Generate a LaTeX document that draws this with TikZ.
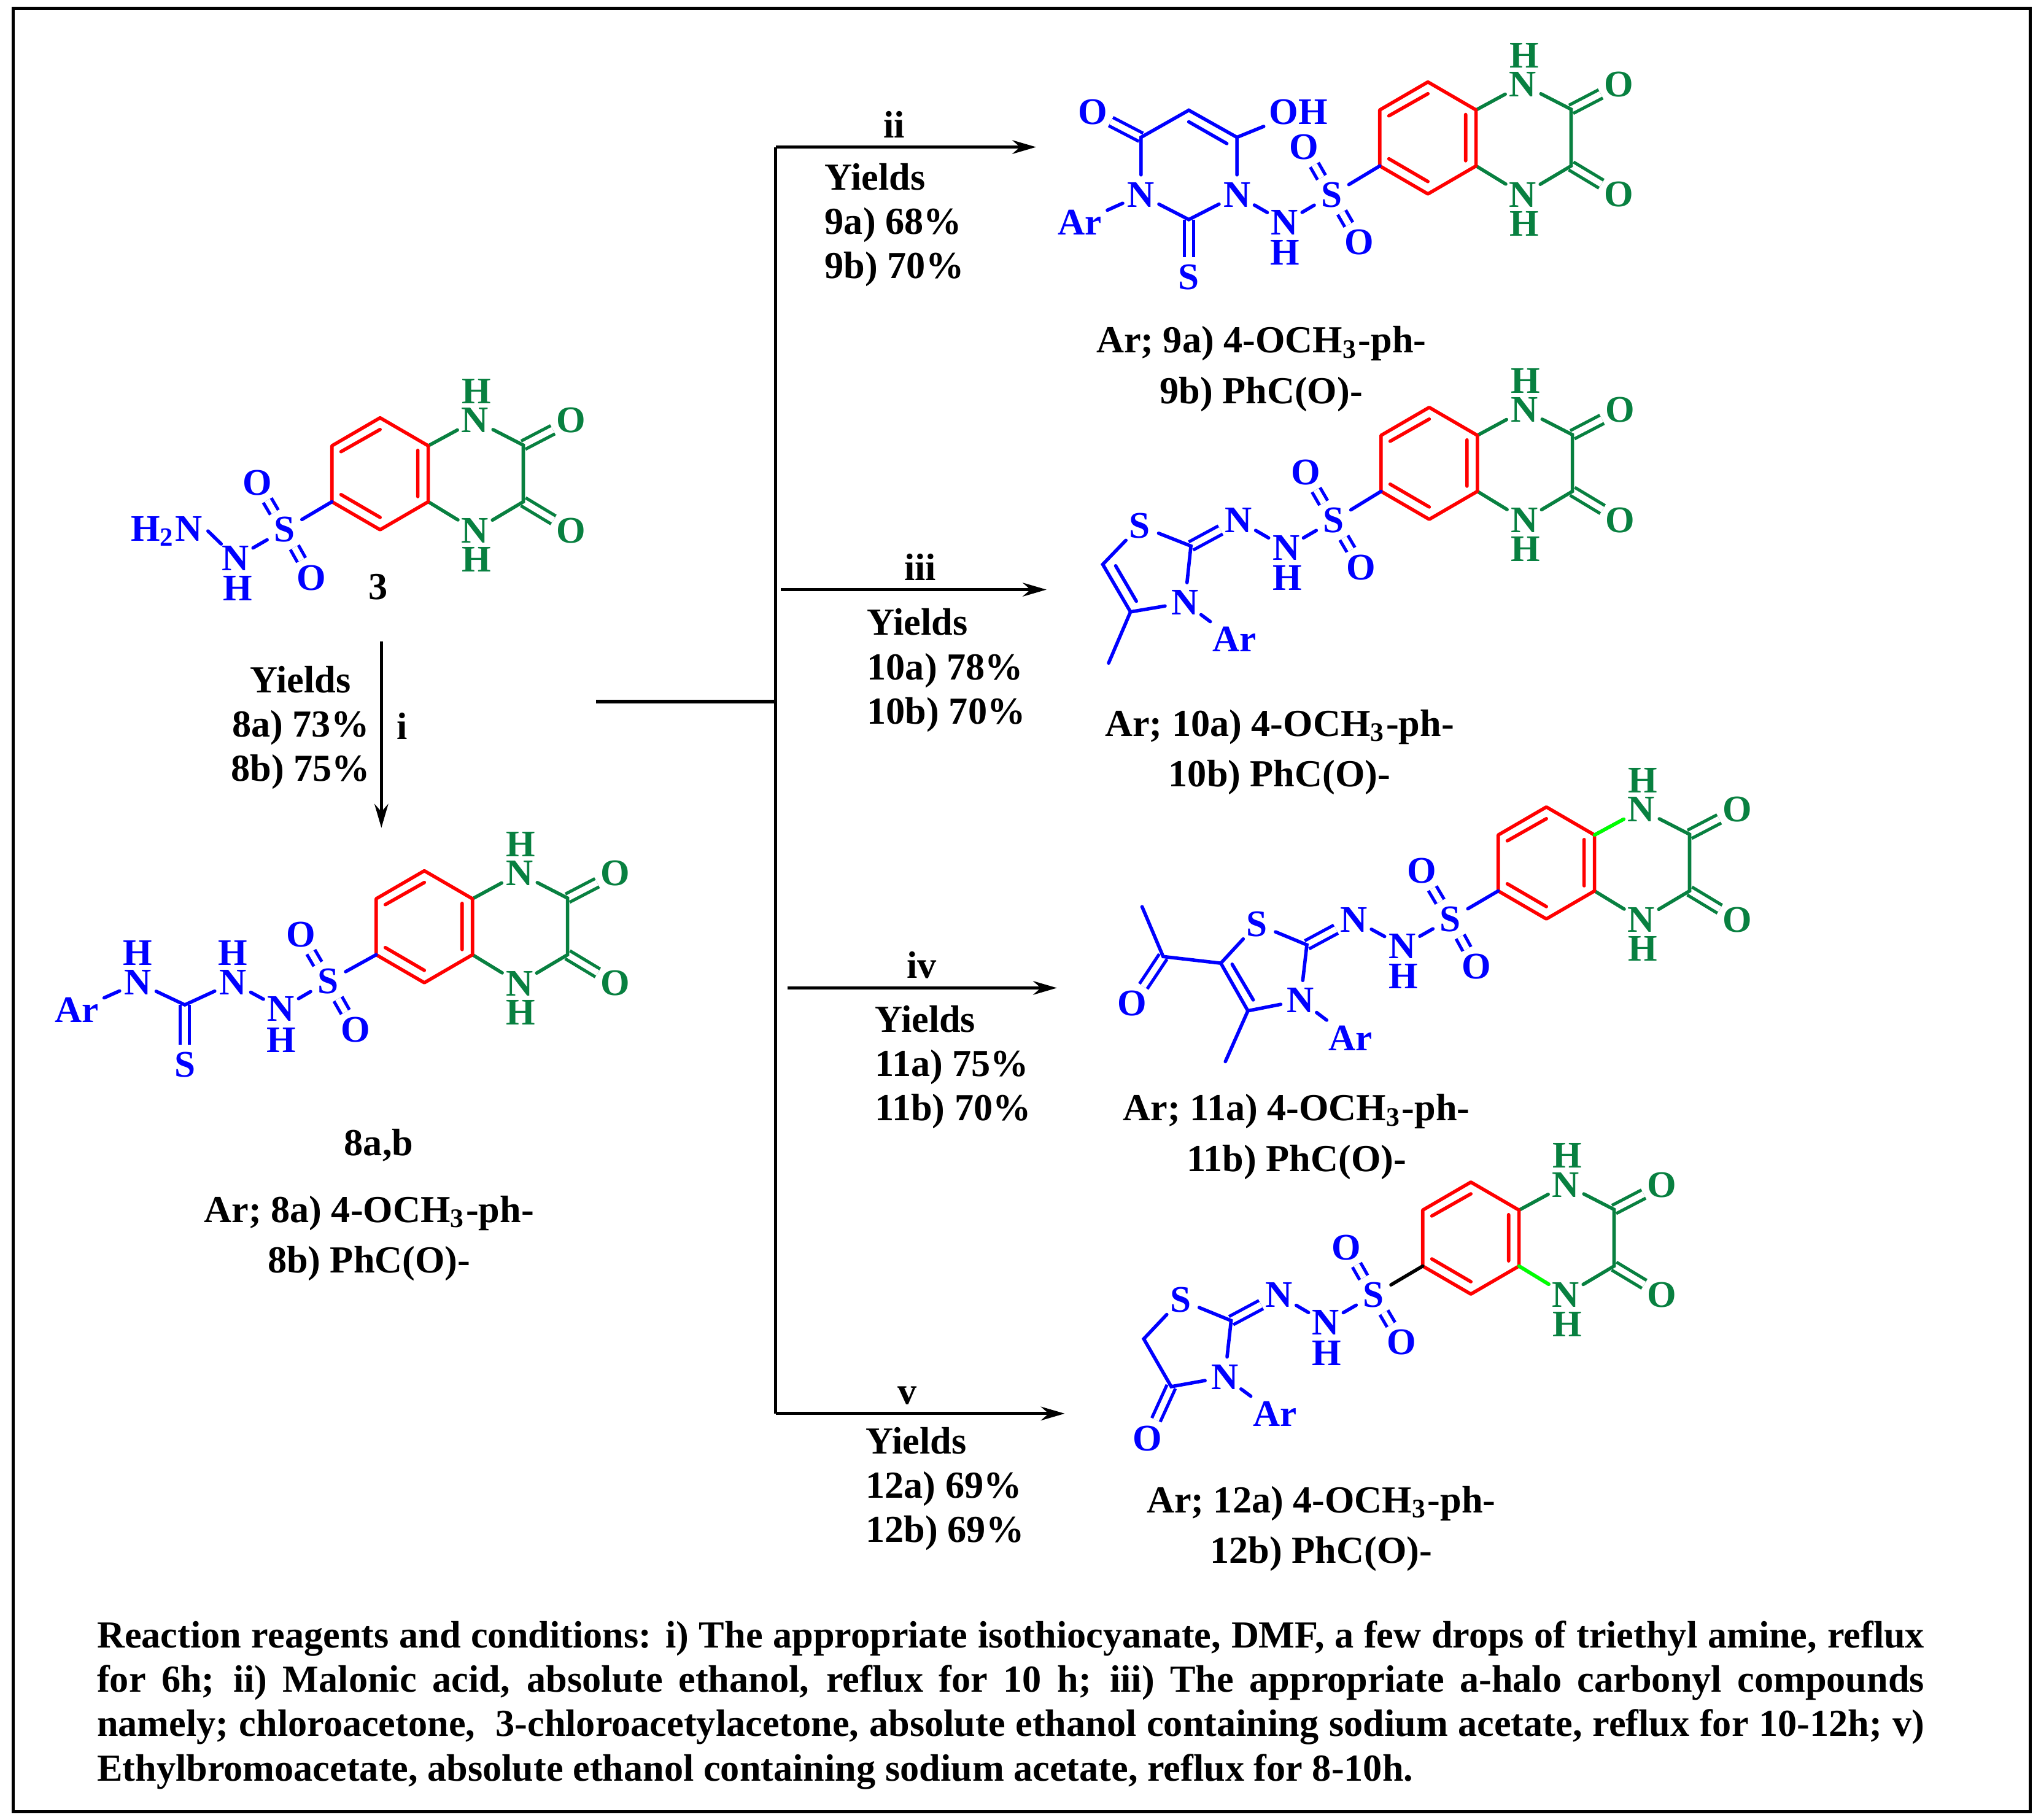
\documentclass[tikz,border=0pt]{standalone}
\usepackage{fontspec}
\setmainfont{Liberation Serif}
\usepackage{tikz}
\usetikzlibrary{arrows.meta}
\definecolor{DGreen}{rgb}{0.03,0.5,0.25}
\newcommand{\labfont}{\fontsize{8.35}{9.67}\selectfont\bfseries}
\newcommand{\atomfont}{\fontsize{8.2}{9.67}\selectfont\bfseries}
\tikzset{
  bond/.style={line width=.75pt, line cap=round},
  dblbond/.style={line width=.7pt, double, double distance=1.3pt},
  atom/.style={circle, inner sep=0pt, minimum size=8.4pt, text=blue, font=\atomfont},
  wideatom/.style={atom, rectangle, minimum size=0pt, inner sep=1pt},
  greenatom/.style={atom, text=DGreen},
  txt/.style={inner sep=0pt, font=\labfont},
  yieldtxt/.style={txt, align=left, anchor=west},
  prodtxt/.style={txt, align=center},
  rxn/.style={line width=.7pt},
  rxnarrow/.style={rxn, -{Stealth[length=5.2pt,width=3pt]}},
  pics/quinox/.style={code={
    \coordinate (top) at (0,-43);
    \coordinate (ur) at (37,-21.5);
    \coordinate (lr) at (37,21.5);
    \coordinate (bot) at (0,43);
    \coordinate (ll) at (-37,21.5);
    \coordinate (ul) at (-37,-21.5);
    \coordinate (ia) at (-30,-17);
    \coordinate (ib) at (0,-34);
    \coordinate (ic) at (29,-18);
    \coordinate (id) at (29,17.5);
    \coordinate (ie) at (-30,16);
    \coordinate (if) at (0,33.5);
    \coordinate (ca) at (110,-22);
    \coordinate (cb) at (110,21.5);
    \node[greenatom] (na) at (73,-41) {N};
    \node[greenatom] (ha) at (74,-63.5) {H};
    \node[greenatom] (nb) at (73,43.5) {N};
    \node[greenatom] (hb) at (74,66) {H};
    \node[greenatom] (oa) at (146.5,-41) {O};
    \node[greenatom] (ob) at (146.5,43.5) {O};
    \draw[dblbond, DGreen] (ca) -- (oa);
    \draw[dblbond, DGreen] (cb) -- (ob);
    \draw[bond, DGreen] (ur) -- (na) (na) -- (ca) -- (cb) -- (nb) (nb) -- (lr);
    \draw[bond, red, line join=round] (top) -- (ur) -- (lr) -- (bot) -- (ll) -- (ul) -- cycle;
    \draw[bond, red] (ia) -- (ib) (ic) -- (id) (ie) -- (if);
  }}
}

\begin{document}
\begin{tikzpicture}[x=0.01cm, y=-0.01cm]
\useasboundingbox (0,0) rectangle (1568,1398);
\coordinate (fa) at (10.1,6.4);
\coordinate (fb) at (1559.6,1392);
\draw[line width=.67pt] (fa) rectangle (fb);

\pic (mc) at (292,364) {quinox};
\node[atom] (mcs) at (218.6,407) {S};
\node[atom] (mco) at (197.5,371) {O};
\node[atom] (mcp) at (239.2,443.8) {O};
\node[atom] (mcn) at (181,428.7) {N};
\node[atom] (mch) at (182.6,452) {H};
\node[wideatom] (mcam) at (128,408) {H\textsubscript{2}N};
\draw[dblbond, blue] (mcs) -- (mco);
\draw[dblbond, blue] (mcs) -- (mcp);
\draw[bond, blue] (mcs) -- (mcll) (mcs) -- (mcn) (mcn) -- (mcam.east);
\node[txt] (lthree) at (290.5,451) {3};

\coordinate (ia) at (293,493);
\coordinate (ib) at (293,636);
\draw[rxnarrow] (ia) -- (ib);
\node[prodtxt] (yi) at (231,559) {Yields\\8a) 73\%\\8b) 75\%};
\node[txt] (li) at (309,558) {i};

\pic (me) at (326,712) {quinox};
\node[wideatom] (mear) at (59,776) {Ar};
\node[atom] (mena) at (106,755) {N};
\node[atom] (meha) at (106,732) {H};
\coordinate (mec) at (142,772);
\node[atom] (mesa) at (142,818) {S};
\node[atom] (menb) at (179,755) {N};
\node[atom] (mehb) at (179,732) {H};
\node[atom] (menc) at (216,775) {N};
\node[atom] (mehc) at (216,799) {H};
\node[atom] (mes) at (252,754) {S};
\node[atom] (meo) at (231,718) {O};
\node[atom] (mep) at (273,791) {O};
\draw[dblbond, blue] (mec) -- (mesa);
\draw[dblbond, blue] (mes) -- (meo);
\draw[dblbond, blue] (mes) -- (mep);
\draw[bond, blue] (mear) -- (mena) (mena) -- (mec) -- (menb) (menb) -- (menc) (menc) -- (mes) (mes) -- (mell);
\node[txt] (lab) at (291,880) {8a,b};
\node[prodtxt] (pe) at (283.5,951.5) {Ar; 8a) 4-OCH\textsubscript{3}-ph-\\[1.4pt]8b) PhC(O)-};

\coordinate (stem) at (458,539);
\coordinate (trunk) at (596,539);
\coordinate (ta) at (596,113);
\coordinate (tv) at (596,1086);
\coordinate (aa) at (796,113);
\coordinate (ba) at (600,453);
\coordinate (bb) at (804,453);
\coordinate (ca) at (605,759);
\coordinate (cb) at (812,759);
\coordinate (da) at (818,1086);
\draw[rxn] (stem) -- (trunk) (ta) -- (tv);
\draw[rxnarrow] (ta) -- (aa);
\draw[rxnarrow] (ba) -- (bb);
\draw[rxnarrow] (ca) -- (cb);
\draw[rxnarrow] (tv) -- (da);

\node[txt] (lii) at (687,95.5) {ii};
\node[yieldtxt] (yii) at (633,173) {Yields\\9a) 68\%\\9b) 70\%};
\node[txt] (liii) at (707,435.5) {iii};
\node[yieldtxt] (yiii) at (665.5,515) {Yields\\10a) 78\%\\10b) 70\%};
\node[txt] (liv) at (708,741.5) {iv};
\node[yieldtxt] (yiv) at (671.5,820) {Yields\\11a) 75\%\\11b) 70\%};
\node[txt] (lv) at (697,1072) {v};
\node[yieldtxt] (yv) at (664.5,1144) {Yields\\12a) 69\%\\12b) 69\%};

\pic (mn) at (1097,106) {quinox};
\node[atom] (mno) at (839.6,86.3) {O};
\node[wideatom] (mnoh) at (997.5,86.3) {OH};
\coordinate (mnca) at (876.6,105.5);
\coordinate (mncb) at (913.3,84.7);
\coordinate (mncc) at (950.3,105.5);
\coordinate (mnia) at (913.3,93.6);
\coordinate (mnib) at (942.5,110.3);
\node[atom] (mnna) at (876.6,149.8) {N};
\node[atom] (mnnb) at (950.3,149.8) {N};
\coordinate (mncd) at (913.3,168.7);
\node[atom] (mnsa) at (913.3,212.9) {S};
\node[wideatom] (mnar) at (829.7,171) {Ar};
\node[atom] (mnnc) at (987,171) {N};
\node[atom] (mnh) at (987,194) {H};
\node[atom] (mns) at (1023,149.8) {S};
\node[atom] (mnp) at (1002,113.2) {O};
\node[atom] (mnq) at (1044,186) {O};
\draw[dblbond, blue] (mnca) -- (mno);
\draw[dblbond, blue] (mncd) -- (mnsa);
\draw[dblbond, blue] (mns) -- (mnp);
\draw[dblbond, blue] (mns) -- (mnq);
\draw[bond, blue] (mnna) -- (mnca) -- (mncb) -- (mncc) -- (mnnb) (mnia) -- (mnib) (mncc) -- (mnoh);
\draw[bond, blue] (mnna) -- (mncd) -- (mnnb) (mnar) -- (mnna) (mnnb) -- (mnnc) (mnnc) -- (mns) (mns) -- (mnll);
\node[prodtxt] (pn) at (969,283.5) {Ar; 9a) 4-OCH\textsubscript{3}-ph-\\[1.4pt]9b) PhC(O)-};

\pic (mt) at (1098,356) {quinox};
\node[atom] (mtsa) at (875.7,404) {S};
\coordinate (mtca) at (847.2,433.6);
\coordinate (mtcb) at (868.5,470.1);
\coordinate (mtcc) at (914.9,419.5);
\coordinate (mtia) at (857.1,434.7);
\coordinate (mtib) at (873,461.9);
\coordinate (mtme) at (851.7,509.4);
\node[atom] (mtnr) at (910.3,463) {N};
\node[wideatom] (mtar) at (948.2,491.3) {Ar};
\node[atom] (mtna) at (951.3,399.8) {N};
\node[atom] (mtnb) at (988,421) {N};
\node[atom] (mth) at (988.9,444.1) {H};
\node[atom] (mts) at (1024.6,399.8) {S};
\node[atom] (mto) at (1003.3,362.9) {O};
\node[atom] (mtp) at (1045.7,435.8) {O};
\draw[dblbond, blue] (mtcc) -- (mtna);
\draw[dblbond, blue] (mts) -- (mto);
\draw[dblbond, blue] (mts) -- (mtp);
\draw[bond, blue] (mtsa) -- (mtca) -- (mtcb) -- (mtnr) (mtnr) -- (mtcc) -- (mtsa) (mtia) -- (mtib) (mtcb) -- (mtme);
\draw[bond, blue] (mtnr) -- (mtar) (mtna) -- (mtnb) (mtnb) -- (mts) (mts) -- (mtll);
\node[prodtxt] (pt) at (983,578) {Ar; 10a) 4-OCH\textsubscript{3}-ph-\\[1.4pt]10b) PhC(O)-};

\pic (mu) at (1188,663) {quinox};
\draw[bond, green] (muur) -- (muna);
\coordinate (mume) at (877.4,696.6);
\coordinate (muca) at (893.6,734.9);
\node[atom] (muoa) at (869.8,770.7) {O};
\coordinate (mucb) at (937.9,740);
\node[atom] (musa) at (965.6,710) {S};
\coordinate (mucc) at (1004,725.9);
\node[atom] (munc) at (1040,706.5) {N};
\node[atom] (mund) at (1077.3,726.9) {N};
\node[atom] (muh) at (1078,750) {H};
\node[atom] (mus) at (1114.3,706) {S};
\node[atom] (muo) at (1092.5,669.2) {O};
\node[atom] (mup) at (1134.4,742.7) {O};
\node[atom] (munr) at (999.1,768.6) {N};
\node[wideatom] (muar) at (1037.5,797.5) {Ar};
\coordinate (mucd) at (958.7,776.6);
\coordinate (mumf) at (941.4,815.6);
\coordinate (muia) at (946.6,740.8);
\coordinate (muib) at (962.8,768.2);
\draw[dblbond, blue] (muca) -- (muoa);
\draw[dblbond, blue] (mucc) -- (munc);
\draw[dblbond, blue] (mus) -- (muo);
\draw[dblbond, blue] (mus) -- (mup);
\draw[bond, blue] (mume) -- (muca) -- (mucb) -- (musa) (musa) -- (mucc) -- (munr) (munr) -- (mucd) -- (mucb) (muia) -- (muib) (mucd) -- (mumf);
\draw[bond, blue] (munr) -- (muar) (munc) -- (mund) (mund) -- (mus) (mus) -- (mull);
\node[prodtxt] (pu) at (996,873.5) {Ar; 11a) 4-OCH\textsubscript{3}-ph-\\[1.4pt]11b) PhC(O)-};

\pic (mw) at (1130,951.2) {quinox};
\draw[bond, green] (mwlr) -- (mwnb);
\node[atom] (mwsa) at (907,998.7) {S};
\coordinate (mwca) at (878.7,1028.6);
\coordinate (mwcb) at (899.8,1065.3);
\node[atom] (mwoa) at (881.7,1105) {O};
\node[atom] (mwnr) at (941,1057.9) {N};
\node[wideatom] (mwar) at (979.5,1086.4) {Ar};
\coordinate (mwcc) at (945.8,1014.6);
\node[atom] (mwnc) at (982.5,995) {N};
\node[atom] (mwnd) at (1018.6,1016.2) {N};
\node[atom] (mwh) at (1019.2,1039.4) {H};
\node[atom] (mws) at (1055.3,995) {S};
\node[atom] (mwo) at (1034.5,958.3) {O};
\node[atom] (mwp) at (1076.6,1031.1) {O};
\draw[dblbond, blue] (mwcb) -- (mwoa);
\draw[dblbond, blue] (mwcc) -- (mwnc);
\draw[dblbond, blue] (mws) -- (mwo);
\draw[dblbond, blue] (mws) -- (mwp);
\draw[bond, blue] (mwsa) -- (mwca) -- (mwcb) -- (mwnr) (mwnr) -- (mwcc) -- (mwsa) (mwnr) -- (mwar) (mwnc) -- (mwnd) (mwnd) -- (mws);
\draw[bond] (mws) -- (mwll);
\node[prodtxt] (pw) at (1015,1174.5) {Ar; 12a) 4-OCH\textsubscript{3}-ph-\\[1.4pt]12b) PhC(O)-};

\node[txt, text width=14.03cm, align=justify] (conds) at (776.5,1310) {Reaction reagents and conditions: i) The appropriate isothiocyanate, DMF, a few drops of triethyl amine, reflux\linebreak for 6h; ii) Malonic acid, absolute ethanol, reflux for 10 h; iii) The appropriate a-halo carbonyl compounds\linebreak namely; chloroacetone,\ \ 3-chloroacetylacetone, absolute ethanol containing sodium acetate, reflux for 10-12h; v)\linebreak Ethylbromoacetate, absolute ethanol containing sodium acetate, reflux for 8-10h.};

\end{tikzpicture}
\end{document}
